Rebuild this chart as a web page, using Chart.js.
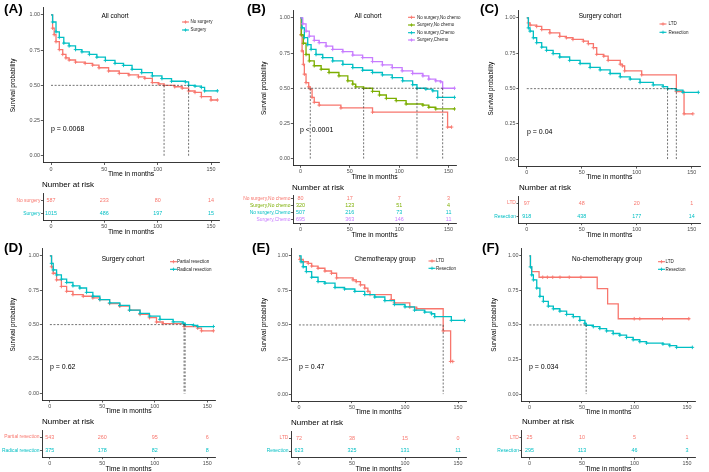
<!DOCTYPE html>
<html><head><meta charset="utf-8">
<script src="https://cdn.jsdelivr.net/npm/chart.js@4.4.1/dist/chart.umd.min.js"></script>
<style>
html,body{margin:0;padding:0;background:#fff;}
#fig{position:relative;width:709px;height:472px;overflow:hidden;background:#fff;font-family:"Liberation Sans",Arial,sans-serif;}
#fig canvas{position:absolute;}
.t{position:absolute;white-space:nowrap;line-height:1;color:#000;}
</style></head><body><div id="fig"></div>
<script>
// ---------- shared axis data ----------
const timeTicks = [0, 50, 100, 150];
const survTicks = [0, 0.25, 0.5, 0.75, 1];
const riskTimes = [0, 50, 100, 150];

// ---------- Panel A ----------
const aTitle = 'All cohort';
const aP = 'p = 0.0068';
const aGroups = ['No surgery', 'Surgery'];
const aNoSurgery = [[0,1],[1.5,0.906],[3,0.86],[4.7,0.81],[7.8,0.754],[11,0.72],[14,0.695],[17,0.68],[23,0.665],[32,0.656],[39,0.644],[45,0.625],[54,0.602],[64,0.585],[73,0.574],[82,0.56],[88,0.55],[95,0.52],[101,0.51],[106,0.5],[116,0.49],[123,0.48],[129,0.46],[135,0.45],[141,0.42],[150,0.396],[156,0.396]];
const aSurgery = [[0,1],[1.5,0.95],[4.7,0.88],[7.8,0.84],[12,0.80],[17,0.78],[23,0.754],[29,0.738],[36,0.72],[43,0.70],[51,0.677],[60,0.656],[68,0.642],[76,0.614],[85,0.59],[95,0.567],[104,0.548],[113,0.529],[126,0.525],[129,0.50],[135,0.494],[141,0.485],[144,0.461],[156,0.461]];
const aRisk = [[587,233,80,14],[1015,486,197,15]];
const aMedians = [106, 129];

// ---------- Panel B ----------
const bTitle = 'All cohort';
const bP = 'p < 0.0001';
const bGroups = ['No surgery,No chemo', 'Surgery,No chemo', 'No surgery,Chemo', 'Surgery,Chemo'];
const bNoSurgNoChemo = [[0,1],[0.7,0.88],[1.7,0.765],[3,0.67],[4,0.60],[5.7,0.54],[8.4,0.51],[10,0.494],[11.8,0.435],[14,0.40],[19,0.38],[41,0.36],[73,0.33],[149,0.224],[153,0.224]];
const bSurgNoChemo = [[0,1],[1,0.88],[3,0.82],[5.7,0.74],[9,0.694],[14,0.66],[21,0.635],[29,0.612],[39,0.588],[48,0.553],[53,0.53],[56,0.51],[64,0.50],[73,0.478],[80,0.452],[87,0.428],[97,0.412],[107,0.388],[124,0.38],[130,0.365],[137,0.353],[156,0.353]];
const bNoSurgChemo = [[0,1],[1.7,0.93],[4,0.86],[7.4,0.81],[10.8,0.776],[15.8,0.74],[22.6,0.718],[32.7,0.694],[43,0.67],[53,0.647],[63,0.628],[73,0.612],[83,0.595],[93,0.576],[103.5,0.553],[113.6,0.525],[118,0.50],[127,0.494],[134,0.482],[139,0.435],[156,0.435]];
const bSurgChemo = [[0,1],[2.4,0.958],[5.7,0.906],[9,0.87],[14,0.84],[19,0.824],[26,0.80],[32.7,0.776],[43,0.76],[53,0.736],[63,0.718],[73,0.69],[83,0.666],[93,0.647],[103,0.624],[113.6,0.605],[124,0.588],[130,0.565],[137,0.553],[142,0.546],[144,0.50],[156,0.50]];
const bRisk = [[80,17,7,3],[320,123,51,4],[507,216,73,11],[695,363,146,11]];
const bMedians = [10, 64, 118, 144];

// ---------- Panel C ----------
const cTitle = 'Surgery cohort';
const cP = 'p = 0.04';
const cGroups = ['LTD', 'Resection'];
const cLTD = [[0,1],[1.5,0.965],[3,0.95],[9,0.94],[13.6,0.918],[21,0.895],[30,0.87],[36,0.86],[42,0.848],[51.5,0.836],[56,0.818],[60.6,0.79],[63.6,0.743],[70,0.73],[74,0.70],[85,0.673],[87,0.661],[89,0.626],[104.5,0.598],[136,0.48],[143,0.322],[151,0.322]];
const cResection = [[0,1],[1.5,0.93],[3,0.907],[6,0.86],[9,0.825],[13.6,0.794],[18,0.771],[24,0.748],[30,0.724],[39,0.70],[48.5,0.678],[57.6,0.65],[66.7,0.633],[75.8,0.607],[85,0.584],[94,0.568],[103,0.544],[115,0.526],[124,0.514],[128,0.50],[136,0.49],[142,0.474],[156,0.474]];
const cRisk = [[97,48,20,1],[918,438,177,14]];
const cMedians = [128, 136];

// ---------- Panel D ----------
const dTitle = 'Surgery cohort';
const dP = 'p = 0.62';
const dGroups = ['Partial resection', 'Radical resection'];
const dPartial = [[0,1],[1.6,0.92],[3.2,0.873],[6.4,0.825],[11,0.777],[16,0.742],[22,0.718],[31.8,0.706],[41,0.694],[47.7,0.682],[57,0.653],[66.7,0.634],[76,0.605],[86,0.574],[95,0.55],[101.7,0.519],[108,0.507],[128,0.486],[141,0.474],[144.6,0.455],[156,0.455]];
const dRadical = [[0,1],[1.6,0.945],[3.2,0.897],[6.4,0.861],[11,0.83],[16,0.806],[22,0.782],[28.6,0.766],[35,0.734],[41,0.706],[47.7,0.682],[57,0.658],[66.7,0.639],[76,0.605],[86,0.581],[95,0.562],[105,0.538],[117.6,0.52],[127,0.51],[129,0.50],[137,0.495],[141,0.486],[156,0.486]];
const dRisk = [[543,260,95,6],[375,178,82,8]];
const dMedians = [128, 129];

// ---------- Panel E ----------
const eTitle = 'Chemotherapy group';
const eP = 'p = 0.47';
const eGroups = ['LTD', 'Resection'];
const eLTD = [[0,1],[1,0.974],[4,0.957],[8.8,0.945],[12,0.926],[18,0.91],[24.5,0.89],[30.7,0.874],[35.5,0.84],[51,0.826],[54,0.814],[58,0.79],[62,0.767],[65,0.743],[67,0.72],[87,0.683],[90,0.66],[104.5,0.629],[111,0.617],[136,0.457],[143,0.236],[145,0.236]];
const eResection = [[0,1],[2,0.957],[4,0.921],[7,0.886],[12,0.845],[18,0.814],[24.5,0.802],[34,0.771],[43,0.76],[52.7,0.743],[62,0.72],[71.5,0.702],[81,0.676],[90,0.648],[100,0.631],[109,0.607],[118.6,0.593],[125,0.581],[128,0.56],[143.7,0.533],[156,0.533]];
const eRisk = [[72,38,15,0],[623,325,131,11]];
const eMedians = [136];

// ---------- Panel F ----------
const fTitle = 'No-chemotherapy group';
const fP = 'p = 0.034';
const fGroups = ['LTD', 'Resection'];
const fLTD = [[0,1],[1,0.92],[2.2,0.886],[9.2,0.845],[64.5,0.762],[74.4,0.652],[84.5,0.545],[152.5,0.545]];
const fLTDCensor = [[12.7,0.845],[17.1,0.845],[22.2,0.845],[29.1,0.845],[37.9,0.845],[49,0.845],[99.7,0.545],[105,0.545],[126.6,0.545],[151.6,0.545]];
const fResection = [[0,1],[1,0.92],[2.2,0.862],[3.8,0.826],[7,0.767],[10,0.707],[13.3,0.671],[18,0.636],[22.8,0.617],[29,0.60],[35.4,0.576],[41.8,0.56],[48,0.533],[52.8,0.512],[54,0.498],[60.8,0.488],[67,0.474],[73.4,0.457],[79.7,0.438],[86,0.426],[92.4,0.41],[98.7,0.393],[105,0.379],[111.4,0.369],[127,0.362],[133.5,0.35],[140,0.338],[155,0.338]];
const fRisk = [[25,10,5,1],[295,113,46,3]];
const fMedians = [54];

// ---------- styling / layout ----------
const RED = '#F8766D', CYAN = '#00BFC4', GREEN = '#7CAE00', PURPLE = '#C77CFF';
const FONT = '"Liberation Sans", Arial, Helvetica, sans-serif';
const AX = '#222';

const panels = [
  {letter:'(A)', title:aTitle, p:aP, groups:aGroups, curves:[aNoSurgery, aSurgery], censors:[null, null], risk:aRisk, medians:aMedians, colors:[RED, CYAN],
   lay:{letterX:4, letterY:8.5, axL:43, axR:219, axT:6.6, axB:162.8, yTitleX:13, titleX:115, titleY:16, pX:51, pY:128, legLine:182, legText:190.5, legY:[22,30], tabTop:192.5, tabBot:220.5, narX:42, narY:185}},
  {letter:'(B)', title:bTitle, p:bP, groups:bGroups, curves:[bNoSurgNoChemo, bSurgNoChemo, bNoSurgChemo, bSurgChemo], censors:[null, null, null, null], risk:bRisk, medians:bMedians, colors:[RED, GREEN, CYAN, PURPLE],
   lay:{letterX:247, letterY:9, axL:293, axR:456, axT:9.9, axB:165.6, yTitleX:264, titleX:368, titleY:16, pX:300, pY:129, legLine:408, legText:417, legY:[17.3,25,32.7,40], tabTop:194, tabBot:223, narX:292, narY:188}},
  {letter:'(C)', title:cTitle, p:cP, groups:cGroups, curves:[cLTD, cResection], censors:[null, null], risk:cRisk, medians:cMedians, colors:[RED, CYAN],
   lay:{letterX:480, letterY:8.5, axL:518.5, axR:700, axT:9.6, axB:166.4, yTitleX:491, titleX:600, titleY:16, pX:527, pY:131, legLine:659.5, legText:668.5, legY:[24,32.3], tabTop:195, tabBot:223, narX:519, narY:188}},
  {letter:'(D)', title:dTitle, p:dP, groups:dGroups, curves:[dPartial, dRadical], censors:[null, null], risk:dRisk, medians:dMedians, colors:[RED, CYAN],
   lay:{letterX:4, letterY:248, axL:42, axR:215, axT:247, axB:400.3, yTitleX:13, titleX:123, titleY:259, pX:50, pY:366, legLine:170, legText:177, legY:[261.7,269.3], tabTop:429, tabBot:457, narX:42, narY:422}},
  {letter:'(E)', title:eTitle, p:eP, groups:eGroups, curves:[eLTD, eResection], censors:[null, null], risk:eRisk, medians:eMedians, colors:[RED, CYAN],
   lay:{letterX:252, letterY:248, axL:291, axR:466, axT:247, axB:401, yTitleX:264, titleX:385, titleY:259, pX:299, pY:366, legLine:428.5, legText:436, legY:[261,268.3], tabTop:430, tabBot:457.5, narX:291, narY:423}},
  {letter:'(F)', title:fTitle, p:fP, groups:fGroups, curves:[fLTD, fResection], censors:[fLTDCensor, null], risk:fRisk, medians:fMedians, colors:[RED, CYAN],
   lay:{letterX:482, letterY:248, axL:521.5, axR:695, axT:247, axB:401, yTitleX:494, titleX:607, titleY:259, pX:529, pY:366, legLine:658, legText:665.5, legY:[261.7,269.3], tabTop:429, tabBot:457.5, narX:522, narY:422}}
];

const fig = document.getElementById('fig');

function addText(txt, x, y, o) {
  const d = document.createElement('div');
  d.className = 't';
  d.textContent = txt;
  d.style.left = x + 'px';
  d.style.top = y + 'px';
  d.style.fontSize = o.size + 'px';
  if (o.bold) d.style.fontWeight = 'bold';
  if (o.color) d.style.color = o.color;
  d.style.transform = o.center ? 'translate(-50%,-50%)' : 'translate(0,-50%)';
  fig.appendChild(d);
}

function makeCanvas(left, top, w, h) {
  const cv = document.createElement('canvas');
  cv.width = w; cv.height = h;
  cv.style.left = left + 'px'; cv.style.top = top + 'px';
  cv.style.width = w + 'px'; cv.style.height = h + 'px';
  fig.appendChild(cv);
  return cv;
}

const kmLegendPlugin = {
  id: 'kmLegend',
  afterDraw(chart, args, o) {
    const ctx = chart.ctx;
    ctx.save();
    o.items.forEach((it, i) => {
      const y = o.ys[i] - o.top;
      const x1 = o.lineX - o.left, x2 = x1 + 7;
      ctx.strokeStyle = it.color;
      ctx.lineWidth = 1.1;
      ctx.beginPath(); ctx.moveTo(x1, y); ctx.lineTo(x2, y); ctx.stroke();
      const cx = (x1 + x2) / 2;
      ctx.lineWidth = 0.8;
      ctx.beginPath(); ctx.moveTo(cx - 1.7, y); ctx.lineTo(cx + 1.7, y); ctx.moveTo(cx, y - 1.7); ctx.lineTo(cx, y + 1.7); ctx.stroke();
      ctx.fillStyle = '#222';
      ctx.font = '4.5px ' + FONT;
      ctx.textBaseline = 'middle';
      ctx.textAlign = 'left';
      ctx.fillText(it.label, o.textX - o.left, y);
    });
    ctx.restore();
  }
};

const riskTextPlugin = {
  id: 'riskText',
  afterDatasetsDraw(chart) {
    const ctx = chart.ctx;
    ctx.save();
    ctx.font = '5.4px ' + FONT;
    ctx.textAlign = 'center';
    ctx.textBaseline = 'middle';
    chart.data.datasets.forEach((ds, i) => {
      const meta = chart.getDatasetMeta(i);
      ctx.fillStyle = ds.textColor;
      meta.data.forEach((el, j) => ctx.fillText(String(ds.data[j].n), el.x, el.y));
    });
    ctx.restore();
  }
};

function xScale(title, xH) {
  return {
    type: 'linear', min: -7.5, max: 157.5,
    afterBuildTicks: s => { s.ticks = timeTicks.map(v => ({value: v})); },
    afterFit: s => { s.height = xH; },
    ticks: {font: {family: FONT, size: 5.4}, color: '#4d4d4d', padding: 0.8, maxRotation: 0, callback: v => String(v)},
    grid: {drawOnChartArea: false, drawTicks: true, tickLength: 2.2, color: '#333', lineWidth: 0.8},
    border: {display: true, color: AX, width: 0.9},
    title: {display: true, text: title, font: {family: FONT, size: 6.8}, color: '#000', padding: 0}
  };
}

panels.forEach(p => {
  const L = p.lay;
  // ---- KM chart ----
  const yW = L.axL - (L.yTitleX - 3.9);
  const left = Math.floor(L.axL - yW);
  const yWe = L.axL - left;
  const top = Math.floor(L.axT - 3);
  const w = Math.min(Math.ceil(L.axR - left + 9), 709 - left);
  const h = Math.ceil(L.axB - top + 14.6);
  const xHe = h - (L.axB - top);
  const cv = makeCanvas(left, top, w, h);

  const datasets = [];
  p.curves.forEach((c, i) => {
    const col = p.colors[i];
    const hasCensor = !!p.censors[i];
    datasets.push({
      data: c, borderColor: col, backgroundColor: col, borderWidth: 1.3, stepped: 'before', fill: false,
      pointStyle: 'cross', pointRadius: hasCensor ? 0 : (ctx => ctx.dataIndex === 0 ? 0 : 1.8),
      pointBorderWidth: 0.9, pointBorderColor: col, pointBackgroundColor: col, order: 20 - i
    });
    if (hasCensor) {
      datasets.push({
        data: p.censors[i], showLine: false, borderColor: col, pointStyle: 'cross', pointRadius: 1.8,
        pointBorderWidth: 0.9, pointBorderColor: col, order: 20 - i
      });
    }
  });
  const dash = {borderColor: '#444', borderWidth: 0.75, borderDash: [2, 1.6], pointRadius: 0, fill: false, order: 0};
  const mMax = Math.max(...p.medians);
  datasets.push(Object.assign({data: [[0, 0.5], [mMax, 0.5]]}, dash));
  p.medians.forEach(m => datasets.push(Object.assign({data: [[m, 0.5], [m, 0]]}, dash)));

  new Chart(cv, {
    type: 'line',
    data: {datasets},
    plugins: [kmLegendPlugin],
    options: {
      responsive: false, animation: false, devicePixelRatio: 1, events: [],
      layout: {padding: {top: L.axT - top, right: (left + w) - L.axR, left: 0, bottom: 0}},
      plugins: {
        legend: {display: false}, tooltip: {enabled: false},
        kmLegend: {items: p.groups.map((g, i) => ({label: g, color: p.colors[i]})), ys: L.legY, lineX: L.legLine, textX: L.legText, left, top}
      },
      scales: {
        x: xScale('Time in months', xHe),
        y: {
          type: 'linear', min: -0.05, max: 1.05,
          afterBuildTicks: s => { s.ticks = survTicks.map(v => ({value: v})); },
          afterFit: s => { s.width = yWe; },
          ticks: {font: {family: FONT, size: 5.4}, color: '#4d4d4d', padding: 0.8, callback: v => Number(v).toFixed(2)},
          grid: {drawOnChartArea: false, drawTicks: true, tickLength: 2.2, color: '#333', lineWidth: 0.8},
          border: {display: true, color: AX, width: 0.9},
          title: {display: true, text: 'Survival probability', font: {family: FONT, size: 6.4}, color: '#000', padding: 0}
        }
      }
    }
  });

  // ---- risk table ----
  const n = p.groups.length;
  const tW = Math.min(L.axL, 56);
  const tLeft = Math.floor(L.axL - tW);
  const tYW = L.axL - tLeft;
  const tTop = Math.floor(L.tabTop - 2);
  const tw = Math.ceil(L.axR - tLeft + 2);
  const th = Math.ceil(L.tabBot - tTop + 15.1);
  const tXH = th - (L.tabBot - tTop);
  const tcv = makeCanvas(tLeft, tTop, tw, th);
  const tDatasets = p.risk.map((row, i) => ({
    data: riskTimes.map((t, j) => ({x: t, y: i + 1, n: row[j]})),
    textColor: p.colors[i], pointRadius: 0, showLine: false, borderColor: p.colors[i]
  }));
  new Chart(tcv, {
    type: 'scatter',
    data: {datasets: tDatasets},
    plugins: [riskTextPlugin],
    options: {
      responsive: false, animation: false, devicePixelRatio: 1, events: [],
      layout: {padding: {top: L.tabTop - tTop, right: (tLeft + tw) - L.axR, left: 0, bottom: 0}},
      plugins: {legend: {display: false}, tooltip: {enabled: false}},
      scales: {
        x: xScale('Time in months', tXH),
        y: {
          type: 'linear', min: 0.5, max: n + 0.5, reverse: true,
          afterBuildTicks: s => { s.ticks = p.groups.map((g, i) => ({value: i + 1})); },
          afterFit: s => { s.width = tYW; },
          ticks: {font: {family: FONT, size: 4.9}, color: ctx => p.colors[ctx.index], padding: 0.6, autoSkip: false,
                  callback: (v, i) => p.groups[i]},
          grid: {drawOnChartArea: false, drawTicks: true, tickLength: 2, color: '#333', lineWidth: 0.8},
          border: {display: true, color: AX, width: 0.9}
        }
      }
    }
  });

  // ---- text ----
  addText(p.letter, L.letterX, L.letterY, {size: 13.5, bold: true});
  addText(p.title, L.titleX, L.titleY, {size: 6.5, center: true});
  addText(p.p, L.pX, L.pY, {size: 7});
  addText('Number at risk', L.narX, L.narY, {size: 8});
});
</script></body></html>
